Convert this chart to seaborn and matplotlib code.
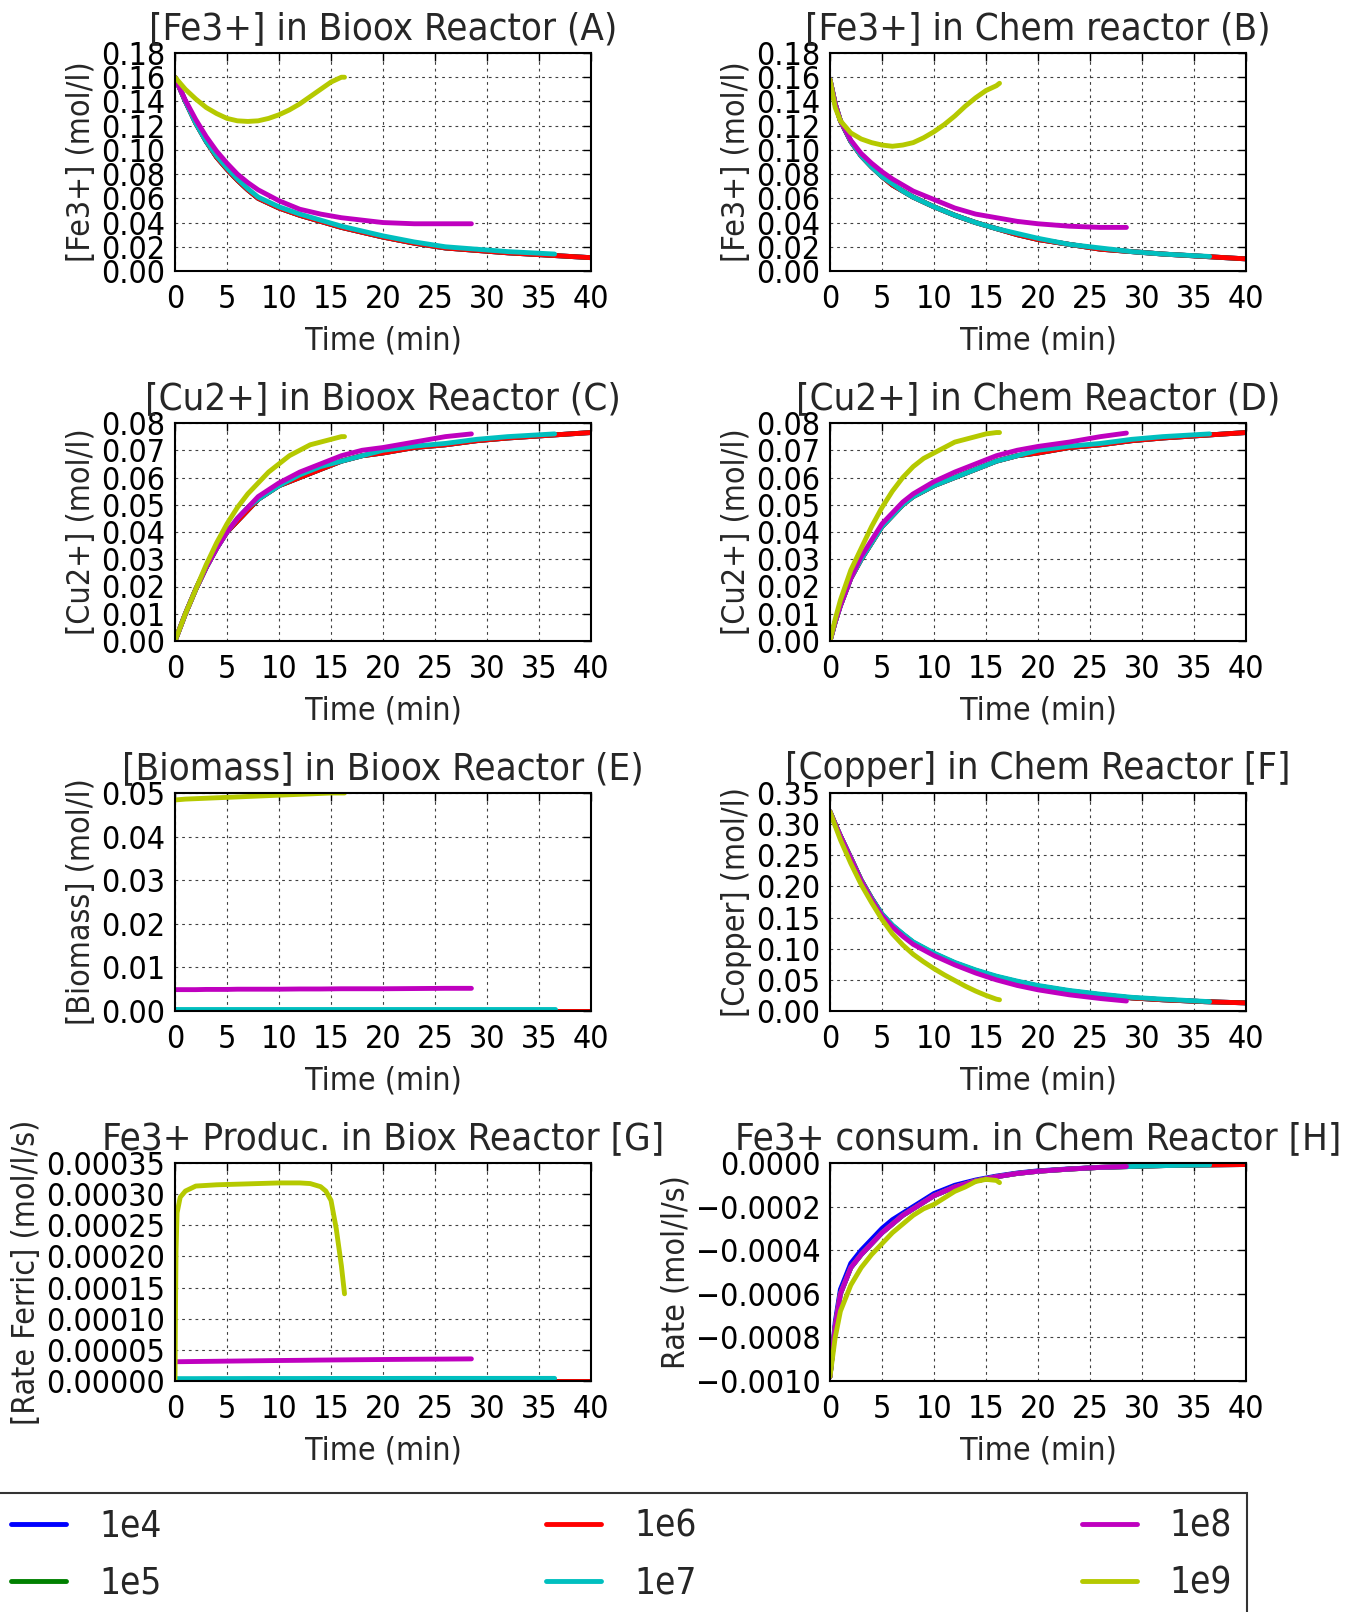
import matplotlib
matplotlib.use("Agg")
import matplotlib.pyplot as plt
from matplotlib.ticker import MultipleLocator, FuncFormatter
import seaborn as sns

sns.set_style("white")
plt.rcParams["font.family"] = ["DejaVu Sans"]
plt.rcParams["font.stretch"] = "condensed"
plt.rcParams["axes.unicode_minus"] = True

# ---- series (dilution labels and colours) ----
SERIES = ["1e4", "1e5", "1e6", "1e7", "1e8", "1e9"]
COLORS = ["#0000ff", "#008000", "#ff0000", "#00bfbf", "#bf00bf", "#b5c900"]

# ---- time grids (min) ----
T_LONG = [0, 0.5, 1, 2, 3, 4, 5, 6, 7, 8, 10, 12, 14, 16, 18, 20, 23, 26, 29, 32, 36, 40]
T_1E7 = [0, 0.5, 1, 2, 3, 4, 5, 6, 7, 8, 10, 12, 14, 16, 18, 20, 23, 26, 29, 32, 36.5]
T_1E8 = [0, 0.5, 1, 2, 3, 4, 5, 6, 7, 8, 10, 12, 14, 16, 18, 20, 23, 26, 28.5]
T_1E9 = [0, 0.5, 1, 2, 3, 4, 5, 6, 7, 8, 9, 10, 11, 12, 13, 14, 15, 16, 16.3]
T_G_1E9 = [0, 0.05, 0.1, 0.2, 0.5, 1, 2, 4, 6, 8, 10, 12, 13, 14, 14.5, 15, 15.5, 16, 16.3]

# ---- (A) [Fe3+] in bioox reactor ----
A_1E4 = [0.160, 0.150, 0.140, 0.122, 0.107, 0.094, 0.084, 0.075, 0.067, 0.060, 0.052, 0.046, 0.041, 0.036, 0.032, 0.028, 0.023, 0.019, 0.017, 0.015, 0.013, 0.011]
A_1E5 = [0.160, 0.150, 0.140, 0.122, 0.107, 0.094, 0.084, 0.075, 0.067, 0.060, 0.052, 0.046, 0.041, 0.036, 0.032, 0.028, 0.023, 0.019, 0.017, 0.015, 0.013, 0.011]
A_1E6 = [0.160, 0.150, 0.140, 0.122, 0.107, 0.094, 0.084, 0.075, 0.067, 0.060, 0.052, 0.046, 0.041, 0.036, 0.032, 0.028, 0.023, 0.019, 0.017, 0.015, 0.013, 0.011]
A_1E7 = [0.160, 0.150, 0.140, 0.122, 0.107, 0.095, 0.085, 0.076, 0.068, 0.061, 0.053, 0.047, 0.042, 0.037, 0.033, 0.029, 0.024, 0.020, 0.018, 0.016, 0.014]
A_1E8 = [0.160, 0.150, 0.141, 0.125, 0.111, 0.099, 0.089, 0.080, 0.073, 0.067, 0.058, 0.051, 0.047, 0.044, 0.042, 0.040, 0.039, 0.039, 0.039]
A_1E9 = [0.160, 0.155, 0.150, 0.142, 0.135, 0.130, 0.126, 0.124, 0.1235, 0.124, 0.126, 0.129, 0.133, 0.138, 0.144, 0.150, 0.156, 0.160, 0.160]

# ---- (B) [Fe3+] in chem reactor ----
B_1E4 = [0.158, 0.138, 0.124, 0.107, 0.095, 0.086, 0.078, 0.071, 0.066, 0.061, 0.053, 0.046, 0.040, 0.035, 0.030, 0.026, 0.022, 0.018, 0.016, 0.014, 0.012, 0.010]
B_1E5 = [0.158, 0.138, 0.124, 0.107, 0.095, 0.086, 0.078, 0.071, 0.066, 0.061, 0.053, 0.046, 0.040, 0.035, 0.030, 0.026, 0.022, 0.018, 0.016, 0.014, 0.012, 0.010]
B_1E6 = [0.158, 0.138, 0.124, 0.107, 0.095, 0.086, 0.078, 0.071, 0.066, 0.061, 0.053, 0.046, 0.040, 0.035, 0.030, 0.026, 0.022, 0.018, 0.016, 0.014, 0.012, 0.010]
B_1E7 = [0.158, 0.138, 0.124, 0.107, 0.095, 0.086, 0.078, 0.072, 0.066, 0.061, 0.053, 0.046, 0.040, 0.035, 0.031, 0.027, 0.022, 0.019, 0.016, 0.014, 0.012]
B_1E8 = [0.158, 0.138, 0.124, 0.108, 0.097, 0.089, 0.082, 0.076, 0.071, 0.066, 0.059, 0.052, 0.047, 0.044, 0.041, 0.039, 0.037, 0.036, 0.036]
B_1E9 = [0.158, 0.135, 0.124, 0.114, 0.109, 0.106, 0.104, 0.103, 0.104, 0.106, 0.110, 0.115, 0.121, 0.128, 0.136, 0.143, 0.149, 0.153, 0.155]

# ---- (C) [Cu2+] in bioox reactor ----
C_1E4 = [0.000, 0.005, 0.010, 0.019, 0.027, 0.034, 0.040, 0.044, 0.048, 0.052, 0.057, 0.060, 0.063, 0.066, 0.068, 0.069, 0.071, 0.072, 0.0735, 0.0745, 0.0755, 0.0765]
C_1E5 = [0.000, 0.005, 0.010, 0.019, 0.027, 0.034, 0.040, 0.044, 0.048, 0.052, 0.057, 0.060, 0.063, 0.066, 0.068, 0.069, 0.071, 0.072, 0.0735, 0.0745, 0.0755, 0.0765]
C_1E6 = [0.000, 0.005, 0.010, 0.019, 0.027, 0.034, 0.040, 0.044, 0.048, 0.052, 0.057, 0.060, 0.063, 0.066, 0.068, 0.069, 0.071, 0.072, 0.0735, 0.0745, 0.0755, 0.0765]
C_1E7 = [0.000, 0.005, 0.010, 0.019, 0.027, 0.034, 0.040, 0.045, 0.049, 0.052, 0.057, 0.061, 0.064, 0.066, 0.068, 0.070, 0.0715, 0.0725, 0.074, 0.075, 0.076]
C_1E8 = [0.000, 0.005, 0.010, 0.019, 0.027, 0.034, 0.040, 0.045, 0.049, 0.053, 0.058, 0.062, 0.065, 0.068, 0.070, 0.071, 0.073, 0.075, 0.076]
C_1E9 = [0.000, 0.005, 0.010, 0.019, 0.028, 0.036, 0.043, 0.049, 0.054, 0.058, 0.062, 0.065, 0.068, 0.070, 0.072, 0.073, 0.074, 0.075, 0.075]

# ---- (D) [Cu2+] in chem reactor ----
D_1E4 = [0.000, 0.007, 0.013, 0.023, 0.030, 0.036, 0.042, 0.046, 0.050, 0.053, 0.057, 0.060, 0.063, 0.066, 0.068, 0.069, 0.071, 0.072, 0.0735, 0.0745, 0.0755, 0.0765]
D_1E5 = [0.000, 0.007, 0.013, 0.023, 0.030, 0.036, 0.042, 0.046, 0.050, 0.053, 0.057, 0.060, 0.063, 0.066, 0.068, 0.069, 0.071, 0.072, 0.0735, 0.0745, 0.0755, 0.0765]
D_1E6 = [0.000, 0.007, 0.013, 0.023, 0.030, 0.036, 0.042, 0.046, 0.050, 0.053, 0.057, 0.060, 0.063, 0.066, 0.068, 0.069, 0.071, 0.072, 0.0735, 0.0745, 0.0755, 0.0765]
D_1E7 = [0.000, 0.007, 0.013, 0.023, 0.030, 0.036, 0.042, 0.046, 0.050, 0.053, 0.057, 0.060, 0.063, 0.066, 0.068, 0.070, 0.0715, 0.0725, 0.074, 0.075, 0.076]
D_1E8 = [0.000, 0.007, 0.013, 0.023, 0.031, 0.037, 0.043, 0.047, 0.051, 0.054, 0.0585, 0.062, 0.065, 0.068, 0.070, 0.0714, 0.073, 0.075, 0.0763]
D_1E9 = [0.000, 0.008, 0.015, 0.026, 0.034, 0.042, 0.049, 0.055, 0.060, 0.064, 0.067, 0.069, 0.071, 0.073, 0.074, 0.075, 0.076, 0.0765, 0.0765]

# ---- (E) [Biomass] in bioox reactor ----
E_1E4 = [0.000005] * 22
E_1E5 = [0.00001] * 22
E_1E6 = [0.00005] * 22
E_1E7 = [0.0005] * 21
E_1E8 = [0.0049, 0.0049, 0.0049, 0.0049, 0.00495, 0.00495, 0.00495, 0.0050, 0.0050, 0.0050, 0.0050, 0.00505, 0.00505, 0.0051, 0.0051, 0.0051, 0.00515, 0.0052, 0.0052]
E_1E9 = [0.0484, 0.0485, 0.0486, 0.0487, 0.0488, 0.0489, 0.0490, 0.0491, 0.0492, 0.0493, 0.0494, 0.0495, 0.0496, 0.0497, 0.0498, 0.0499, 0.0500, 0.0500, 0.0500]

# ---- (F) [Copper] in chem reactor ----
F_1E4 = [0.320, 0.300, 0.281, 0.246, 0.210, 0.181, 0.155, 0.137, 0.123, 0.110, 0.092, 0.077, 0.065, 0.055, 0.047, 0.040, 0.032, 0.026, 0.021, 0.018, 0.015, 0.013]
F_1E5 = [0.320, 0.300, 0.281, 0.246, 0.210, 0.181, 0.155, 0.137, 0.123, 0.110, 0.092, 0.077, 0.065, 0.055, 0.047, 0.040, 0.032, 0.026, 0.021, 0.018, 0.015, 0.013]
F_1E6 = [0.320, 0.300, 0.281, 0.246, 0.210, 0.181, 0.155, 0.137, 0.123, 0.110, 0.092, 0.077, 0.065, 0.055, 0.047, 0.040, 0.032, 0.026, 0.021, 0.018, 0.015, 0.013]
F_1E7 = [0.320, 0.300, 0.281, 0.246, 0.210, 0.181, 0.156, 0.138, 0.124, 0.111, 0.093, 0.078, 0.066, 0.056, 0.048, 0.041, 0.033, 0.027, 0.022, 0.019, 0.015]
F_1E8 = [0.320, 0.300, 0.281, 0.245, 0.209, 0.179, 0.153, 0.135, 0.120, 0.107, 0.089, 0.074, 0.061, 0.050, 0.041, 0.034, 0.026, 0.020, 0.016]
F_1E9 = [0.320, 0.297, 0.275, 0.237, 0.203, 0.174, 0.147, 0.124, 0.106, 0.091, 0.079, 0.068, 0.058, 0.049, 0.040, 0.032, 0.025, 0.019, 0.018]

# ---- (G) Fe3+ production rate in biox reactor ----
G_1E4 = [0.00000004] * 22
G_1E5 = [0.0000001] * 22
G_1E6 = [0.0000004] * 22
G_1E7 = [0.0000038, 0.0000038, 0.0000038, 0.0000038, 0.0000039, 0.0000039, 0.0000039, 0.0000039, 0.0000040, 0.0000040, 0.0000040, 0.0000040, 0.0000041, 0.0000041, 0.0000041, 0.0000041, 0.0000042, 0.0000042, 0.0000042, 0.0000042, 0.0000042]
G_1E8 = [0.0000310, 0.0000310, 0.0000311, 0.0000313, 0.0000315, 0.0000317, 0.0000319, 0.0000321, 0.0000323, 0.0000325, 0.0000329, 0.0000332, 0.0000336, 0.0000339, 0.0000342, 0.0000345, 0.0000349, 0.0000352, 0.0000355]
G_1E9 = [0.0, 0.00012, 0.00021, 0.00027, 0.000295, 0.000305, 0.000313, 0.000315, 0.000316, 0.000317, 0.000318, 0.000318, 0.000317, 0.000312, 0.000305, 0.000290, 0.000245, 0.000185, 0.000140]

# ---- (H) Fe3+ consumption rate in chem reactor ----
H_1E4 = [-0.00098, -0.00073, -0.00058, -0.00046, -0.00040, -0.00035, -0.00030, -0.00026, -0.00023, -0.00020, -0.000140, -0.000102, -0.000078, -0.000060, -0.000046, -0.000036, -0.000027, -0.000020, -0.000016, -0.000012, -0.000009, -0.000007]
H_1E5 = [-0.00098, -0.00075, -0.00060, -0.00048, -0.00042, -0.00037, -0.00032, -0.00028, -0.00024, -0.00021, -0.000150, -0.000110, -0.000082, -0.000063, -0.000048, -0.000038, -0.000028, -0.000020, -0.000016, -0.000012, -0.000009, -0.000007]
H_1E6 = [-0.00098, -0.00075, -0.00060, -0.00048, -0.00042, -0.00037, -0.00032, -0.00028, -0.00024, -0.00021, -0.000150, -0.000110, -0.000082, -0.000063, -0.000048, -0.000038, -0.000028, -0.000020, -0.000016, -0.000012, -0.000009, -0.000007]
H_1E7 = [-0.00098, -0.00075, -0.00060, -0.00048, -0.00042, -0.00037, -0.00032, -0.00028, -0.00024, -0.00021, -0.000150, -0.000110, -0.000082, -0.000063, -0.000048, -0.000038, -0.000028, -0.000020, -0.000016, -0.000012, -0.000009]
H_1E8 = [-0.00098, -0.00075, -0.00060, -0.00048, -0.00042, -0.00037, -0.00032, -0.00028, -0.00024, -0.00021, -0.000150, -0.000110, -0.000082, -0.000063, -0.000048, -0.000038, -0.000028, -0.000020, -0.000016]
H_1E9 = [-0.00098, -0.00080, -0.00068, -0.00056, -0.00048, -0.00042, -0.00037, -0.00032, -0.00028, -0.00024, -0.00021, -0.00019, -0.00016, -0.00013, -0.00011, -0.000085, -0.000075, -0.000080, -0.000090]

TIMES = [T_LONG, T_LONG, T_LONG, T_1E7, T_1E8, T_1E9]
TIMES_G = [T_LONG, T_LONG, T_LONG, T_1E7, T_1E8, T_G_1E9]

PANELS = [
    ("[Fe3+] in Bioox Reactor (A)", "[Fe3+] (mol/l)", (0, 0.18), 0.02, 2,
     [A_1E4, A_1E5, A_1E6, A_1E7, A_1E8, A_1E9], TIMES),
    ("[Fe3+] in Chem reactor (B)", "[Fe3+] (mol/l)", (0, 0.18), 0.02, 2,
     [B_1E4, B_1E5, B_1E6, B_1E7, B_1E8, B_1E9], TIMES),
    ("[Cu2+] in Bioox Reactor (C)", "[Cu2+] (mol/l)", (0, 0.08), 0.01, 2,
     [C_1E4, C_1E5, C_1E6, C_1E7, C_1E8, C_1E9], TIMES),
    ("[Cu2+] in Chem Reactor (D)", "[Cu2+] (mol/l)", (0, 0.08), 0.01, 2,
     [D_1E4, D_1E5, D_1E6, D_1E7, D_1E8, D_1E9], TIMES),
    ("[Biomass] in Bioox Reactor (E)", "[Biomass] (mol/l)", (0, 0.05), 0.01, 2,
     [E_1E4, E_1E5, E_1E6, E_1E7, E_1E8, E_1E9], TIMES),
    ("[Copper] in Chem Reactor [F]", "[Copper] (mol/l)", (0, 0.35), 0.05, 2,
     [F_1E4, F_1E5, F_1E6, F_1E7, F_1E8, F_1E9], TIMES),
    ("Fe3+ Produc. in Biox Reactor [G]", "[Rate Ferric] (mol/l/s)", (0, 0.00035), 0.00005, 5,
     [G_1E4, G_1E5, G_1E6, G_1E7, G_1E8, G_1E9], TIMES_G),
    ("Fe3+ consum. in Chem Reactor [H]", "Rate (mol/l/s)", (-0.0010, 0.0), 0.0002, 4,
     [H_1E4, H_1E5, H_1E6, H_1E7, H_1E8, H_1E9], TIMES),
]


def fixed_formatter(decimals):
    def fmt(v, _pos):
        s = f"{v:.{decimals}f}"
        if float(s) == 0:
            s = s.lstrip("-")
        return s.replace("-", "\u2212")
    return FuncFormatter(fmt)


W, H = 1357, 1612
fig = plt.figure(figsize=(W / 100, H / 100), dpi=100, facecolor="white")

COL_LEFT = [175, 830]
ROW_TOP = [53, 423, 793, 1163]
AX_W, AX_H = 416, 218

BASE = 23
for k, (title, ylabel, ylim, ystep, decimals, values, times) in enumerate(PANELS):
    r, c = divmod(k, 2)
    left = COL_LEFT[c] / W
    bottom = 1 - (ROW_TOP[r] + AX_H) / H
    ax = fig.add_axes([left, bottom, AX_W / W, AX_H / H])
    for name, color, t, y in zip(SERIES, COLORS, times, values):
        sns.lineplot(x=t, y=y, color=color, linewidth=3.5, label=name,
                     legend=False, sort=False, estimator=None, ax=ax)
    ax.set_xlim(0, 40)
    ax.set_ylim(*ylim)
    ax.xaxis.set_major_locator(MultipleLocator(5))
    ax.yaxis.set_major_locator(MultipleLocator(ystep))
    ax.yaxis.set_major_formatter(fixed_formatter(decimals))
    ax.tick_params(direction="in", top=True, right=True, length=6, width=1,
                   labelsize=BASE, pad=7, colors="black")
    ax.tick_params(axis="x", pad=9)
    ax.grid(True, color="0.25", linestyle=(0, (2.5, 3.5)), linewidth=0.8)
    for s in ax.spines.values():
        s.set_visible(True)
        s.set_color("black")
        s.set_linewidth(1.5)
    ax.set_title(title, fontsize=27.5, pad=10)
    ax.set_xlabel("Time (min)", fontsize=BASE, labelpad=8)
    ax.set_ylabel(ylabel, fontsize=BASE, labelpad=3)
    if k == 0:
        handles, labels = ax.get_legend_handles_labels()

leg = fig.legend(handles, labels, loc="upper left", ncol=3, mode="expand",
                 bbox_to_anchor=(-0.003, 0.0, 0.922, 1 - 1493 / H),
                 borderaxespad=0, fontsize=26.5, handlelength=1.5,
                 handletextpad=0.9, labelspacing=0.55, borderpad=0.4,
                 fancybox=False, frameon=True)
leg.get_frame().set_edgecolor("black")
leg.get_frame().set_linewidth(1.5)

fig.savefig("out.png", dpi=100, facecolor="white")
